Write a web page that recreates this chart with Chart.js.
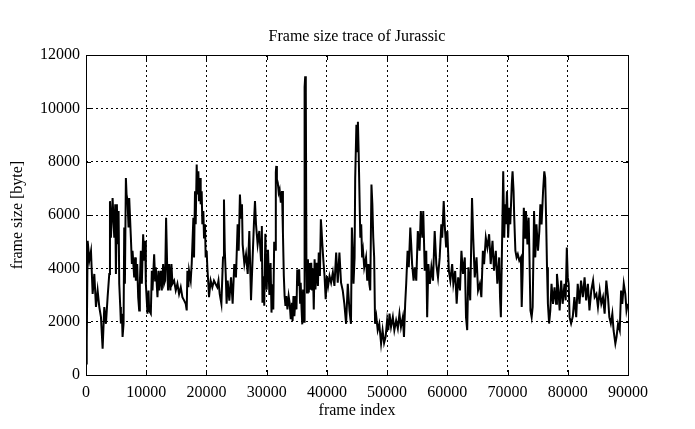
<!DOCTYPE html>
<html>
<head>
<meta charset="utf-8">
<script src="https://cdn.jsdelivr.net/npm/chart.js@4.4.0/dist/chart.umd.min.js"></script>
<style>
html, body { margin: 0; padding: 0; background: #fff; }
#wrap { width: 695px; height: 429px; }
</style>
</head>
<body>
<div id="wrap"><canvas id="trace"></canvas></div>
<script>
// data
const frameIndex = [
  0, 120, 276, 552, 828, 1104, 1380, 1656, 1932, 2208, 2484, 2760, 3036, 3312, 3588, 3864, 3980, 4140, 4416, 4692,
  4858, 4968, 5130, 5244, 5410, 5520, 5690, 5796, 5960, 6072, 6240, 6348, 6460, 6624, 6735, 6900, 7065, 7176, 7452, 7620,
  7728, 8004, 8170, 8280, 8500, 8666, 8832, 8940, 9108, 9270, 9490, 9660, 9825, 9936, 10212, 10380, 10488, 10764, 10930, 11040,
  11316, 11480, 11592, 11868, 12035, 12144, 12420, 12585, 12810, 12972, 13140, 13300, 13470, 13630, 13800, 14020, 14190, 14352, 14628, 14904,
  15180, 15456, 15732, 16008, 16284, 16560, 16725, 16836, 17000, 17112, 17388, 17550, 17830, 17940, 18100, 18216, 18380, 18492, 18660, 18768,
  18935, 19044, 19210, 19320, 19485, 19596, 19760, 19872, 20040, 20148, 20315, 20424, 20700, 20976, 21250, 21500, 21800, 22000, 22200, 22480,
  22750, 22910, 23050, 23200, 23350, 23520, 23800, 24080, 24350, 24620, 24900, 25180, 25350, 25560, 25740, 25900, 26010, 26300, 26570, 26850,
  27120, 27400, 27670, 27880, 28060, 28230, 28500, 28780, 29060, 29200, 29300, 29450, 29600, 29780, 30000, 30220, 30450, 30650, 30800, 30950,
  31100, 31250, 31400, 31520, 31600, 31700, 31850, 32000, 32150, 32350, 32550, 32700, 32850, 32980, 33120, 33260, 33450, 33650, 33810, 34000,
  34200, 34300, 34450, 34600, 34800, 34950, 35080, 35250, 35400, 35550, 35650, 35800, 35910, 36050, 36200, 36300, 36400, 36500, 36600, 36700,
  36850, 37000, 37100, 37240, 37400, 37550, 37680, 37820, 37960, 38100, 38300, 38510, 38650, 38840, 39000, 39100, 39230, 39400, 39610, 39800,
  40000, 40200, 40440, 40700, 40990, 41250, 41540, 41800, 42080, 42350, 42630, 42900, 43190, 43470, 43750, 44000, 44150, 44300, 44420, 44600,
  44700, 44900, 45050, 45150, 45270, 45400, 45550, 45700, 45850, 46000, 46200, 46500, 46700, 46900, 47050, 47200, 47400, 47550, 47700, 47850,
  48000, 48200, 48440, 48700, 49000, 49250, 49500, 49750, 50000, 50200, 50400, 50650, 50950, 51200, 51500, 51780, 52050, 52300, 52610, 52800,
  53000, 53170, 53400, 53600, 53850, 54000, 54150, 54400, 54600, 54840, 55100, 55390, 55600, 55850, 56000, 56250, 56500, 56650, 56850, 57100,
  57350, 57620, 57900, 58170, 58450, 58730, 59000, 59150, 59400, 59560, 59800, 60000, 60250, 60500, 60800, 61000, 61300, 61550, 61800, 62100,
  62340, 62600, 62900, 63100, 63300, 63500, 63800, 64100, 64300, 64550, 64850, 65100, 65400, 65650, 65900, 66100, 66390, 66650, 66940, 67200,
  67500, 67750, 68050, 68300, 68610, 68750, 68890, 69050, 69280, 69450, 69600, 69720, 69900, 70100, 70280, 70450, 70700, 70830, 71000, 71110,
  71300, 71500, 71700, 71950, 72220, 72350, 72500, 72700, 72900, 73060, 73300, 73500, 73610, 73800, 74000, 74170, 74400, 74600, 74800, 75050,
  75280, 75450, 75650, 75900, 76100, 76250, 76400, 76550, 76700, 76900, 77100, 77300, 77550, 77800, 78060, 78200, 78450, 78650, 78900, 79150,
  79450, 79650, 79840, 80000, 80150, 80300, 80550, 80840, 81100, 81400, 81650, 81950, 82200, 82500, 82790, 83050, 83340, 83600, 83900, 84200,
  84460, 84750, 85010, 85300, 85570, 85850, 86120, 86400, 86680, 86900, 87150, 87400, 87600, 87900, 88100, 88350, 88630, 88850, 89050, 89300,
  89550, 89750, 89960
];
const frameSize = [
  430, 1240, 5030, 4300, 4650, 3040, 3790, 2550, 3170, 2550, 2170, 990, 2550, 1920, 2920, 3790, 6520, 5150, 6640, 5150,
  6400, 3790, 6400, 4900, 6150, 3420, 2550, 1930, 2300, 1430, 1930, 5530, 3420, 7390, 6770, 6520, 5530, 6640, 5150, 4160,
  4660, 3660, 4410, 3540, 4160, 2920, 2420, 3420, 4660, 3420, 5280, 4290, 5030, 3420, 2300, 3170, 2420, 2300, 3910, 3170,
  4530, 3540, 4040, 2920, 3910, 3170, 3910, 3170, 4160, 3420, 3540, 5900, 4160, 3170, 4160, 3170, 4160, 3420, 3540, 3170,
  3420, 3040, 3290, 2920, 2800, 2670, 2420, 3910, 3290, 3910, 3540, 4160, 5900, 4410, 6890, 5650, 7890, 6770, 7640, 6520,
  7390, 6400, 6890, 5650, 6150, 5160, 5650, 4410, 4660, 4040, 3420, 2920, 3540, 3290, 3540, 3420, 3290, 3540, 3040, 2670,
  4410, 6580, 4660, 3790, 2670, 3540, 2790, 3660, 2670, 4160, 3660, 5650, 4660, 6770, 5900, 6400, 4900, 4160, 4530, 3790,
  5400, 2800, 4410, 5650, 6520, 5650, 4900, 5400, 4290, 5590, 2710, 3700, 2600, 5300, 3200, 4700, 3000, 4200, 2340, 3400,
  2460, 5000, 4700, 7600, 7840, 7340, 7200, 6840, 6960, 6460, 6900, 5340, 3710, 2960, 2590, 2960, 2460, 2960, 2710, 2090,
  2710, 2030, 2960, 2210, 2960, 2460, 3960, 3340, 3960, 2710, 3460, 2460, 1900, 3210, 2000, 10800, 11200, 10600, 4340, 3090,
  4340, 3090, 4200, 3200, 4210, 3210, 4000, 2460, 4340, 3210, 4210, 3340, 4590, 3710, 5840, 5500, 4960, 4340, 3710, 2840,
  3710, 3340, 3710, 3460, 3840, 3340, 4590, 3460, 4590, 3460, 3170, 2670, 1920, 3420, 2420, 1920, 5530, 4660, 3420, 4400,
  7390, 9380, 8390, 9500, 8400, 6890, 5150, 5650, 4410, 4660, 4040, 4410, 3540, 4160, 3420, 3170, 7140, 6400, 5150, 4410,
  1920, 2200, 1680, 1920, 1180, 1680, 1200, 1430, 2050, 1680, 2300, 1800, 2170, 1680, 2050, 1750, 2300, 1800, 2170, 1430,
  2670, 3420, 4660, 4040, 5530, 4910, 4160, 3540, 4040, 3540, 5400, 4660, 6150, 5150, 6150, 3910, 4660, 2170, 4160, 3420,
  4040, 3540, 5400, 4160, 3660, 4410, 5650, 5150, 6520, 5650, 4780, 5400, 3910, 3540, 4160, 3420, 3900, 2670, 3660, 3170,
  4660, 3790, 4410, 2170, 1680, 4040, 2800, 6640, 5150, 3660, 4410, 3170, 3420, 2920, 4660, 4160, 5150, 4780, 5280, 4160,
  5030, 3910, 4660, 3420, 4410, 2920, 2170, 4410, 7640, 5150, 6400, 5650, 6890, 5150, 6270, 5650, 7140, 7640, 6890, 5900,
  4660, 4410, 4530, 4290, 4410, 2550, 3790, 6270, 5150, 6150, 4900, 5900, 4780, 2420, 2170, 2550, 6150, 4410, 5650, 4660,
  5400, 6400, 5650, 6900, 7640, 7390, 5900, 4040, 2670, 1930, 2420, 3420, 2670, 3290, 2670, 3790, 3170, 2420, 3540, 2670,
  3420, 2800, 4780, 3660, 3420, 2170, 1930, 2200, 2920, 2170, 3420, 2670, 3540, 2920, 3660, 2800, 3420, 2420, 3170, 3540,
  2920, 3040, 2550, 3170, 2670, 2920, 2300, 3540, 2920, 2170, 1930, 2300, 1680, 1180, 1430, 1920, 1680, 3170, 2670, 3420,
  3040, 2420, 2670
];
const xTicks = [0, 10000, 20000, 30000, 40000, 50000, 60000, 70000, 80000, 90000];
const yTicks = [0, 2000, 4000, 6000, 8000, 10000, 12000];
const chartTitle = 'Frame size trace of Jurassic';

const points = frameIndex.map((f, i) => ({ x: f, y: frameSize[i] }));
const serif = 'Liberation Serif, Times New Roman, serif';

// gnuplot-like frame with inward tick marks, title centred over the plot
const frameBox = {
  id: 'frameBox',
  afterDatasetsDraw(chart) {
    const { ctx, chartArea: a, scales } = chart;
    ctx.save();
    ctx.strokeStyle = '#000';
    ctx.lineWidth = 1;
    ctx.setLineDash([]);
    ctx.beginPath();
    xTicks.forEach(v => {
      const px = Math.round(scales.x.getPixelForValue(v)) + 0.5;
      ctx.moveTo(px, a.bottom); ctx.lineTo(px, a.bottom - 5);
      ctx.moveTo(px, a.top); ctx.lineTo(px, a.top + 5);
    });
    yTicks.forEach(v => {
      const py = Math.round(scales.y.getPixelForValue(v)) + 0.5;
      ctx.moveTo(a.left, py); ctx.lineTo(a.left + 5, py);
      ctx.moveTo(a.right, py); ctx.lineTo(a.right - 5, py);
    });
    ctx.stroke();
    ctx.strokeRect(Math.round(a.left) + 0.5, Math.round(a.top) + 0.5,
      Math.round(a.right - a.left), Math.round(a.bottom - a.top));

    ctx.fillStyle = '#000';
    ctx.font = '16px ' + serif;
    ctx.textAlign = 'center';
    ctx.textBaseline = 'middle';
    ctx.fillText(chartTitle, (a.left + a.right) / 2, 37);
    ctx.restore();
  }
};

new Chart(document.getElementById('trace'), {
  type: 'line',
  data: {
    datasets: [{
      data: points,
      borderColor: '#000',
      borderWidth: 2,
      pointRadius: 0,
      tension: 0,
      fill: false
    }]
  },
  options: {
    responsive: true,
    maintainAspectRatio: false,
    animation: false,
    events: [],
    layout: { padding: { left: 0, right: 67, top: 55, bottom: 0 } },
    plugins: {
      legend: { display: false },
      tooltip: { enabled: false },
      title: { display: false }
    },
    scales: {
      x: {
        type: 'linear',
        min: 0,
        max: 90000,
        afterBuildTicks: axis => { axis.ticks = xTicks.map(v => ({ value: v })); },
        afterFit: scale => { scale.height = 54; },
        grid: { color: '#000', lineWidth: 1, drawTicks: false },
        border: { display: false, dash: [2, 3] },
        ticks: {
          color: '#000',
          padding: 8,
          maxRotation: 0,
          font: { family: serif, size: 16 },
          callback: v => String(v)
        },
        title: {
          display: true,
          text: 'frame index',
          color: '#000',
          font: { family: serif, size: 16 },
          padding: { top: 0, bottom: 9 }
        }
      },
      y: {
        min: 0,
        max: 12000,
        afterBuildTicks: axis => { axis.ticks = yTicks.map(v => ({ value: v })); },
        afterFit: scale => { scale.width = 86; },
        grid: { color: '#000', lineWidth: 1, drawTicks: false },
        border: { display: false, dash: [2, 3] },
        ticks: {
          color: '#000',
          padding: 6,
          font: { family: serif, size: 16 },
          callback: v => String(v)
        },
        title: {
          display: true,
          text: 'frame size [byte]',
          color: '#000',
          font: { family: serif, size: 16 },
          padding: { top: 8, bottom: 0 }
        }
      }
    }
  },
  plugins: [frameBox]
});
</script>
</body>
</html>
